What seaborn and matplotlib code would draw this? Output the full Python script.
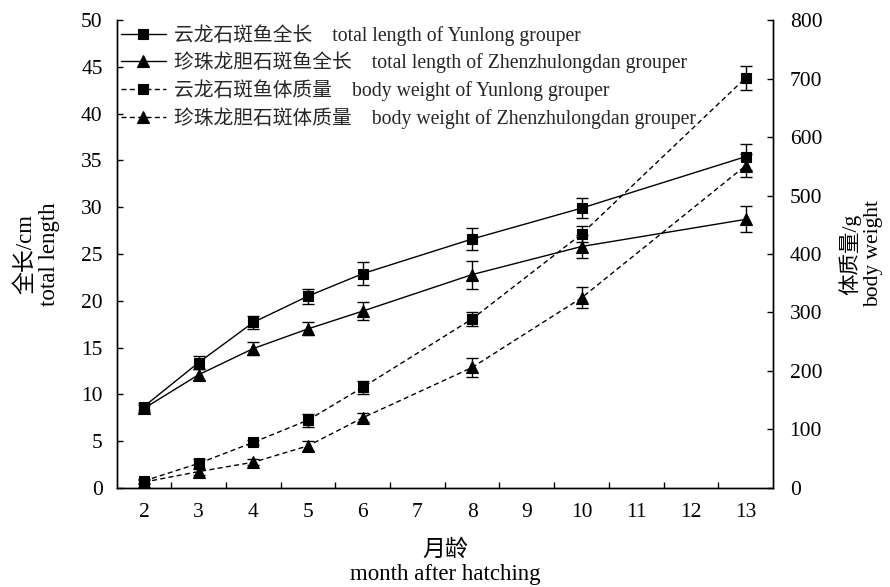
import matplotlib
matplotlib.use("Agg")
import matplotlib.pyplot as plt
from matplotlib.ticker import FixedLocator, MultipleLocator
import seaborn as sns

# Months after hatching at which fish were measured
months = [2, 3, 4, 5, 6, 8, 10, 13]

# Total length (cm), mean and SD
yunlong_length = [8.7, 13.4, 17.7, 20.5, 22.9, 26.6, 29.9, 35.4]
yunlong_length_sd = [0.4, 0.7, 0.7, 0.8, 1.2, 1.2, 1.1, 1.4]
zhenzhu_length = [8.5, 12.1, 14.9, 17.0, 18.9, 22.8, 25.8, 28.7]
zhenzhu_length_sd = [0.4, 0.6, 0.7, 0.7, 1.0, 1.5, 1.2, 1.4]

# Body weight (g), mean and SD
yunlong_weight = [12, 42, 78, 116, 172, 289, 434, 701]
yunlong_weight_sd = [3, 7, 4, 11, 11, 12, 14, 20]
zhenzhu_weight = [10, 28, 44, 72, 120, 206, 325, 551]
zhenzhu_weight_sd = [3, 5, 5, 8, 8, 16, 18, 20]

month_ticks = list(range(2, 14))

labels = [
    "云龙石斑鱼全长    total length of Yunlong grouper",
    "珍珠龙胆石斑鱼全长    total length of Zhenzhulongdan grouper",
    "云龙石斑鱼体质量    body weight of Yunlong grouper",
    "珍珠龙胆石斑体质量    body weight of Zhenzhulongdan grouper",
]

sns.set_theme(style="ticks")
plt.rcParams["font.family"] = ["Liberation Serif", "Noto Sans CJK SC"]
plt.rcParams["axes.unicode_minus"] = False

fig = plt.figure(figsize=(8.9, 5.87), dpi=100)
ax = fig.add_axes([0.131, 0.1687, 0.8685 - 0.131, 0.9659 - 0.1687])
ax2 = ax.twinx()

dash = (0, (3.6, 2.4))
common = dict(color="black", markeredgecolor="black", markerfacecolor="black",
              markeredgewidth=0.8, linewidth=1.0)
err = dict(fmt="none", ecolor="black", elinewidth=1.0, capsize=4, capthick=1.0)

# Total length on the left axis
sns.lineplot(x=months, y=yunlong_length, ax=ax, marker="s", markersize=6.5,
             label=labels[0], **common)
ax.errorbar(months, yunlong_length, yerr=yunlong_length_sd, **err)
sns.lineplot(x=months, y=zhenzhu_length, ax=ax, marker="^", markersize=8.5,
             label=labels[1], **common)
ax.errorbar(months, zhenzhu_length, yerr=zhenzhu_length_sd, **err)

# Body weight on the right axis
sns.lineplot(x=months, y=yunlong_weight, ax=ax2, marker="s", markersize=6.5,
             linestyle=dash, label=labels[2], **common)
ax2.errorbar(months, yunlong_weight, yerr=yunlong_weight_sd, **err)
sns.lineplot(x=months, y=zhenzhu_weight, ax=ax2, marker="^", markersize=8.5,
             linestyle=dash, label=labels[3], **common)
ax2.errorbar(months, zhenzhu_weight, yerr=zhenzhu_weight_sd, **err)

# Axes limits and ticks
ax.set_xlim(1.5, 13.5)
ax.set_ylim(0, 50)
ax2.set_ylim(0, 800)
ax.xaxis.set_major_locator(FixedLocator(month_ticks))
ax.set_xticklabels([str(m) for m in month_ticks])
ax.xaxis.set_minor_locator(FixedLocator([m + 0.5 for m in month_ticks[:-1]]))
ax.yaxis.set_major_locator(MultipleLocator(5))
ax2.yaxis.set_major_locator(MultipleLocator(100))

ax.tick_params(axis="x", which="major", length=0, pad=11, labelsize=15.5, colors="black")
ax.tick_params(axis="x", which="minor", direction="in", length=4, width=1.0, color="black")
ax.tick_params(axis="y", direction="in", length=4, width=1.0, pad=10, labelsize=15.5,
               colors="black")
ax2.tick_params(axis="y", direction="in", length=4, width=1.0, pad=12, labelsize=15.5,
                colors="black")

for a in (ax, ax2):
    a.spines["top"].set_visible(False)
    for s in ("left", "right", "bottom"):
        a.spines[s].set_color("black")
        a.spines[s].set_linewidth(1.0)
    a.grid(False)

ax.set_xlabel("月龄\nmonth after hatching", fontsize=16.5, labelpad=12, color="black")
ax.set_ylabel("全长/cm\ntotal length", fontsize=16.5, labelpad=15, color="black")
ax2.set_ylabel("体质量/g\nbody weight", fontsize=15.5, labelpad=12, color="black")

# One legend for all four series
h1, l1 = ax.get_legend_handles_labels()
h2, l2 = ax2.get_legend_handles_labels()
if ax.get_legend() is not None:
    ax.get_legend().remove()
ax2.legend(h1 + h2, l1 + l2, loc="upper left", bbox_to_anchor=(0.0, 1.0),
           frameon=False, fontsize=14.2, handlelength=2.3, handletextpad=0.4,
           labelspacing=0.3, borderaxespad=0.0, borderpad=0.2)

fig.savefig("out.png", dpi=100)
